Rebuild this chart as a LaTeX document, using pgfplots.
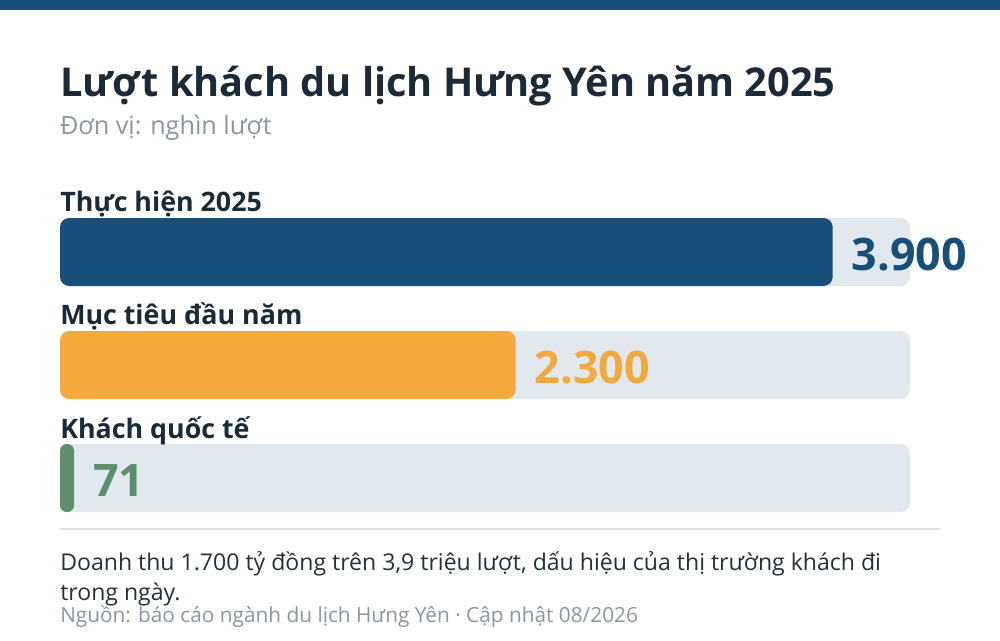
\documentclass[border=0pt]{standalone}
\usepackage{fontspec}
\setmainfont{Open Sans}
\usepackage{pgfplots}
\pgfplotsset{compat=1.18}
\usepackage{pgfplotstable}
\definecolor{cblue}{HTML}{154F7A}
\definecolor{corange}{HTML}{F4A93C}
\definecolor{cgreen}{HTML}{5B8F6E}
\definecolor{ctrack}{HTML}{E1E8EE}
\definecolor{ctitle}{HTML}{1B2A38}
\definecolor{cgrey}{HTML}{8A96A3}
\definecolor{cline}{HTML}{DDE1E5}
\definecolor{ctext}{HTML}{24313D}

\pgfplotstableread{
y val lab
252 3900 3.900
}\tA
\pgfplotstableread{
y val lab
365 2300 2.300
}\tB
\pgfplotstableread{
y val lab
478 71 71
}\tC
\pgfplotstableread{
y val
252 4290
365 4290
478 4290
}\tT

\begin{document}
\begin{tikzpicture}
\fill[white] (0,0) rectangle (750pt,480pt);
\begin{axis}[
  at={(0,0)}, anchor=south west,
  scale only axis, width=750pt, height=480pt,
  xmin=-302.8235, xmax=4744.235, ymin=0, ymax=640, y dir=reverse,
  hide axis, clip=false,
  xbar, bar width=68, bar shift=0,
]
\addplot[fill=ctrack, draw=none, rounded corners=7pt] table[x=val,y=y] {\tT};
\addplot[fill=cblue, draw=none, rounded corners=7pt,
  nodes near coords={\pgfplotspointmeta}, point meta=explicit symbolic,
  every node near coord/.append style={anchor=west, xshift=10.8pt, yshift=-2pt,
    font=\bfseries\fontsize{33.6}{36}\selectfont, text=cblue}]
  table[x=val,y=y,meta=lab] {\tA};
\addplot[fill=corange, draw=none, rounded corners=7pt,
  nodes near coords={\pgfplotspointmeta}, point meta=explicit symbolic,
  every node near coord/.append style={anchor=west, xshift=10.8pt, yshift=-2pt,
    font=\bfseries\fontsize{33.6}{36}\selectfont, text=corange}]
  table[x=val,y=y,meta=lab] {\tB};
\addplot[fill=cgreen, draw=none, rounded corners=5pt,
  nodes near coords={\pgfplotspointmeta}, point meta=explicit symbolic,
  every node near coord/.append style={anchor=west, xshift=10.8pt, yshift=-2pt,
    font=\bfseries\fontsize{33.6}{36}\selectfont, text=cgreen}]
  table[x=val,y=y,meta=lab] {\tC};
\end{axis}
\begin{scope}[x=0.75pt,y=-0.75pt,yshift=480pt]
\fill[cblue] (0,0) rectangle (1000,10);
\node[anchor=base west, inner sep=0, text=ctitle, font=\bfseries\fontsize{29.8}{34}\selectfont] at (60,97) {Lượt khách du lịch Hưng Yên năm 2025};
\node[anchor=base west, inner sep=0, text=cgrey, font=\fontsize{18.9}{22}\selectfont] at (60,135) {Đơn vị: nghìn lượt};
\node[anchor=base west, inner sep=0, text=ctitle, font=\bfseries\fontsize{20.1}{23}\selectfont] at (60,212) {Thực hiện 2025};
\node[anchor=base west, inner sep=0, text=ctitle, font=\bfseries\fontsize{20.1}{23}\selectfont] at (60,325) {Mục tiêu đầu năm};
\node[anchor=base west, inner sep=0, text=ctitle, font=\bfseries\fontsize{20.1}{23}\selectfont] at (60,438) {Khách quốc tế};
\draw[cline, line width=1.5pt] (60,529) -- (940,529);
\node[anchor=base west, inner sep=0, text=ctext, font=\fontsize{17.3}{20}\selectfont] at (60,570) {Doanh thu 1.700 tỷ đồng trên 3,9 triệu lượt, dấu hiệu của thị trường khách đi};
\node[anchor=base west, inner sep=0, text=ctext, font=\fontsize{17.3}{20}\selectfont] at (60,600) {trong ngày.};
\node[anchor=base west, inner sep=0, text=cgrey, font=\fontsize{15.6}{18}\selectfont] at (60,622) {Nguồn: báo cáo ngành du lịch Hưng Yên · Cập nhật 08/2026};
\end{scope}
\end{tikzpicture}
\end{document}
